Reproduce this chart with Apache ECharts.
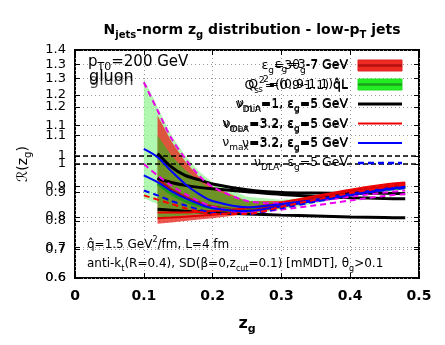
<!DOCTYPE html>
<html><head><meta charset="utf-8">
<script src="https://cdn.jsdelivr.net/npm/echarts/dist/echarts.min.js"></script>
<style>html,body{margin:0;padding:0;background:#fff}#c{width:445px;height:345px}</style>
</head><body><div id="c"></div><script>
// ---- data ----
const zg = [0.1, 0.12, 0.14, 0.16, 0.18, 0.2, 0.25, 0.3, 0.35, 0.4, 0.45, 0.48];
const xTicks = [0, 0.1, 0.2, 0.3, 0.4, 0.5];
const yTicksA = [0.6, 0.7, 0.8, 0.9, 1.0, 1.1, 1.2, 1.3, 1.4];
const yTicksB = [0.6, 0.7, 0.8, 0.9, 1.0, 1.1, 1.2, 1.3];

const lightGreenLo = [0.88, 0.86, 0.845, 0.835, 0.826, 0.82, 0.82, 0.84, 0.862, 0.885, 0.905, 0.912];
const lightGreenHi = [1.30, 1.20, 1.10, 1.03, 0.975, 0.935, 0.885, 0.875, 0.885, 0.90, 0.918, 0.925];
const redBandLo   = [null, 0.79, 0.795, 0.80, 0.805, 0.81, 0.825, 0.845, 0.87, 0.893, 0.91, 0.918];
const redBandHi   = [null, 1.17, 1.08, 1.01, 0.955, 0.92, 0.87, 0.87, 0.885, 0.905, 0.925, 0.935];
const redBandMid  = [null, 0.95, 0.91, 0.885, 0.865, 0.85, 0.84, 0.855, 0.875, 0.897, 0.915, 0.925];
const greenBandLo = [null, 0.81, 0.815, 0.82, 0.825, 0.83, 0.835, 0.85, 0.868, 0.888, 0.905, 0.912];
const greenBandHi = [null, 1.10, 1.03, 0.98, 0.94, 0.91, 0.87, 0.865, 0.878, 0.897, 0.915, 0.922];
const greenBandMid= [null, 0.93, 0.895, 0.87, 0.855, 0.845, 0.84, 0.855, 0.872, 0.892, 0.91, 0.917];

const blackTop  = [null, 1.037, 0.99, 0.96, 0.945, 0.93, 0.91, 0.90, 0.898, 0.897, 0.897, 0.896];
const blackMid  = [null, 0.95, 0.935, 0.925, 0.918, 0.913, 0.903, 0.893, 0.886, 0.882, 0.879, 0.878];
const blackLowB = [null, 0.825, 0.822, 0.819, 0.817, 0.815, 0.81, 0.806, 0.803, 0.80, 0.798, 0.797];
const redSolid1 = [null, 0.83, 0.83, 0.83, 0.832, 0.835, 0.845, 0.865, 0.888, 0.91, 0.928, 0.935];
const redSolid2 = [null, 0.81, 0.812, 0.815, 0.818, 0.822, 0.835, 0.857, 0.882, 0.905, 0.922, 0.93];
const blueSolid1 = [1.053, 1.024, 0.975, 0.93, 0.895, 0.87, 0.848, 0.86, 0.875, 0.895, 0.912, 0.92];
const blueSolid2 = [0.96, 0.936, 0.905, 0.88, 0.86, 0.845, 0.835, 0.852, 0.872, 0.893, 0.91, 0.918];
const blueDash   = [0.907, 0.89, 0.87, 0.855, 0.84, 0.828, 0.825, 0.845, 0.868, 0.89, 0.908, 0.915];
const magDash1   = [1.287, 1.188, 1.09, 1.02, 0.96, 0.92, 0.87, 0.862, 0.87, 0.885, 0.90, 0.907];
const magDash2   = [1.0, 0.96, 0.925, 0.895, 0.87, 0.85, 0.83, 0.84, 0.855, 0.872, 0.888, 0.895];
const redDash    = [0.89, 0.875, 0.86, 0.845, 0.833, 0.825, 0.825, 0.85, 0.875, 0.898, 0.918, 0.928];

const legendA = ["ε_{g}=3-7 GeV", "Q_{s}^{2}=(0.9-1.1)q̂L", "ν_{min}=1, ε_{g}=5 GeV", "ν_{max}=3.2, ε_{g}=5 GeV", "ν_{max}=3.2, ε_{g}=5 GeV", "ν_{DLA}, ε_{g}=5 GeV"];
const legendB = ["ε_{g}=3θ_{g}-7 GeV", "Q_{s}^{2}=(0.9-1.1) q̂L", "ν_{DLA}=1, ε_{g}=5 GeV", "ν_{DLA}=3.2, ε_{g}=5 GeV", "ν=3.2, ε_{g}=5 GeV", ""];

const F = "DejaVu Sans";

function pairs(ys) { const out = []; zg.forEach((x, i) => { if (ys[i] != null) out.push([x, ys[i]]); }); return out; }
function rt(str, p) {
  let out = '', buf = '', i = 0;
  const flush = () => { if (buf) { out += '{' + p + '|' + buf + '}'; buf = ''; } };
  while (i < str.length) {
    const c = str[i];
    if ((c === '_' || c === '^') && str[i + 1] === '{') {
      flush(); const j = str.indexOf('}', i);
      out += '{' + p + (c === '_' ? 'S' : 'P') + '|' + str.slice(i + 2, j) + '}';
      i = j + 1;
    } else { buf += c; i++; }
  }
  flush(); return out;
}
function rs(p, size, weight, color) {
  const s = Math.round(size * 0.7);
  const o = {};
  o[p] = { fontFamily: F, fontSize: size, fontWeight: weight, lineHeight: size + 6, color: color };
  o[p + 'S'] = { fontFamily: F, fontSize: s, fontWeight: weight, lineHeight: s + 1, verticalAlign: 'bottom', color: color };
  o[p + 'P'] = { fontFamily: F, fontSize: s, fontWeight: weight, lineHeight: s + 1, verticalAlign: 'top', color: color };
  return o;
}

function band(lo, hi, color, z) {
  const data = [];
  zg.forEach((x, i) => { if (lo[i] != null) data.push([x, lo[i], hi[i]]); });
  return {
    type: 'custom', yAxisIndex: 0, z: z, clip: true, silent: true,
    data: data, encode: { x: 0, y: [1, 2] },
    renderItem: function (params, api) {
      if (params.dataIndex !== 0) return;
      const pts = [];
      for (let k = 0; k < data.length; k++) pts.push(api.coord([data[k][0], data[k][2]]));
      for (let k = data.length - 1; k >= 0; k--) pts.push(api.coord([data[k][0], data[k][1]]));
      return { type: 'polygon', shape: { points: pts }, style: { fill: color } };
    }
  };
}
function line(ys, color, width, type, yIdx, z) {
  return {
    type: 'line', data: pairs(ys), yAxisIndex: yIdx || 0, symbol: 'none', smooth: 0.3, z: z || 5,
    lineStyle: { color: color, width: width, type: type || 'solid' }, silent: true, animation: false
  };
}
const oneLine = { silent: true, symbol: 'none', animation: false, label: { show: false },
  lineStyle: { color: '#000', type: [5, 3], width: 1.5 }, data: [{ yAxis: 1 }] };

const series = [
  band(lightGreenLo, lightGreenHi, 'rgba(150,245,150,0.75)', 1),
  band(redBandLo, redBandHi, 'rgba(232,40,30,0.78)', 2),
  band(greenBandLo, greenBandHi, 'rgba(20,200,20,0.55)', 3),
  line(redBandMid, '#b01010', 2.5, 'solid', 0, 4),
  line(greenBandMid, '#1a9a1a', 2.5, 'solid', 0, 4),
  Object.assign(line(blackTop, '#000', 3), { markLine: oneLine }),
  line(blackMid, '#000', 3),
  Object.assign(line(blackLowB, '#000', 3, 'solid', 1), { markLine: oneLine }),
  line(redSolid1, '#ee0000', 2),
  line(redSolid2, '#dd0000', 2),
  line(magDash1, '#ee00ee', 2, [6, 4]),
  line(magDash2, '#ee00ee', 2, [6, 4]),
  line(blueSolid1, '#0000ff', 2),
  line(blueSolid2, '#0000ff', 2),
  line(blueDash, '#0000ff', 2, [6, 4]),
  line(redDash, '#ff0000', 2, [6, 4])
];

const grid = { left: 75, top: 50, width: 344, height: 228, show: true, borderColor: '#000', borderWidth: 2, backgroundColor: 'transparent' };
const dotted = { show: true, lineStyle: { color: '#999', type: [1, 3], width: 1 } };
const tick = { show: true, inside: true, length: 5, lineStyle: { color: '#000', width: 1 } };

const yA = {
  type: 'value', min: yTicksA[0], max: yTicksA[yTicksA.length - 1], interval: 0.1, position: 'left',
  axisLine: { show: false }, axisTick: tick, splitLine: dotted,
  axisLabel: { color: '#000', fontFamily: F, fontSize: 13, margin: 9 },
  name: '{n|ℛ(z}{nS|g}{n|)}', nameLocation: 'middle', nameGap: 42, nameRotate: 90,
  nameTextStyle: { rich: rs('n', 14, 'normal', '#000') }
};
const yB = {
  type: 'value', min: yTicksB[0], max: 1.347, interval: 0.1, position: 'left',
  axisLine: { show: false }, axisTick: tick, splitLine: dotted,
  axisLabel: { color: '#000', fontFamily: F, fontSize: 13, margin: 9, showMaxLabel: false }
};

const graphic = [];
// legend
const rowY = [65, 84.5, 104, 123.5, 143, 163];
legendA.forEach((t, i) => {
  graphic.push({ type: 'text', x: 348, y: rowY[i], z: 20, style: { text: rt(t, 'n'), rich: rs('n', 12.5, 'normal', i === 5 ? '#555' : '#111'), align: 'right', verticalAlign: 'middle' } });
  if (legendB[i]) graphic.push({ type: 'text', x: 348, y: rowY[i] + 1, z: 20, style: { text: rt(legendB[i], 'n'), rich: rs('n', 12.5, 'normal', 'rgba(0,0,0,0.45)'), align: 'right', verticalAlign: 'middle' } });
});
graphic.push({ type: 'rect', z: 20, shape: { x: 358, y: 60, width: 44, height: 11 }, style: { fill: '#ee2a22', stroke: '#e02020' } });
graphic.push({ type: 'line', z: 21, shape: { x1: 358, y1: 65.5, x2: 402, y2: 65.5 }, style: { stroke: '#b01010', lineWidth: 2.5 } });
graphic.push({ type: 'rect', z: 20, shape: { x: 358, y: 79, width: 44, height: 11 }, style: { fill: '#22ee22', stroke: '#22dd22' } });
graphic.push({ type: 'line', z: 21, shape: { x1: 358, y1: 84.5, x2: 402, y2: 84.5 }, style: { stroke: '#1aa01a', lineWidth: 2.5 } });
graphic.push({ type: 'line', z: 21, shape: { x1: 358, y1: 104, x2: 402, y2: 104 }, style: { stroke: '#000', lineWidth: 3 } });
graphic.push({ type: 'line', z: 21, shape: { x1: 358, y1: 123.5, x2: 402, y2: 123.5 }, style: { stroke: '#ee0000', lineWidth: 2 } });
graphic.push({ type: 'line', z: 21, shape: { x1: 358, y1: 143, x2: 402, y2: 143 }, style: { stroke: '#0000ff', lineWidth: 2 } });
graphic.push({ type: 'line', z: 21, shape: { x1: 358, y1: 163, x2: 402, y2: 163 }, style: { stroke: '#0000ff', lineWidth: 2.5, lineDash: [6, 4] } });
// annotations
graphic.push({ type: 'text', x: 88, y: 62, z: 20, style: { text: rt('p_{T0}=200 GeV', 'a'), rich: rs('a', 15, 'normal', '#000'), verticalAlign: 'middle' } });
graphic.push({ type: 'text', x: 89, y: 77, z: 20, style: { text: 'gluon', fontFamily: F, fontSize: 16, fill: '#000', verticalAlign: 'middle' } });
graphic.push({ type: 'text', x: 89, y: 81, z: 20, style: { text: 'gluon', fontFamily: F, fontSize: 16, fill: 'rgba(0,0,0,0.7)', verticalAlign: 'middle' } });
graphic.push({ type: 'text', x: 87, y: 245, z: 20, style: { text: rt('q̂=1.5 GeV^{2}/fm, L=4 fm', 'b'), rich: rs('b', 12, 'normal', '#000'), verticalAlign: 'middle' } });
graphic.push({ type: 'text', x: 87, y: 264, z: 20, style: { text: rt('anti-k_{t}(R=0.4), SD(β=0,z_{cut}=0.1) [mMDT], θ_{g}>0.1', 'b'), rich: rs('b', 12, 'normal', '#000'), verticalAlign: 'middle' } });

const option = {
  animation: false,
  backgroundColor: '#fff',
  title: {
    text: rt('N_{jets}-norm z_{g} distribution - low-p_{T} jets', 't'),
    left: 247, top: 15, textAlign: 'center',
    textStyle: { rich: rs('t', 14, 'bold', '#000') }
  },
  grid: grid,
  xAxis: [
    { type: 'value', min: xTicks[0], max: xTicks[xTicks.length - 1], interval: 0.1, position: 'bottom',
      axisLine: { show: false }, axisTick: tick, splitLine: dotted,
      axisLabel: { color: '#000', fontFamily: F, fontSize: 14, fontWeight: 'bold', margin: 11 },
      name: '{n|z}{nS|g}', nameLocation: 'middle', nameGap: 35,
      nameTextStyle: { rich: rs('n', 16, 'bold', '#000') } },
    { type: 'value', min: xTicks[0], max: xTicks[xTicks.length - 1], interval: 0.1, position: 'top',
      axisLine: { show: false }, axisTick: tick, splitLine: { show: false }, axisLabel: { show: false } }
  ],
  yAxis: [
    yA, yB,
    { type: 'value', min: 0.6, max: 1.4, interval: 0.1, position: 'right', axisLine: { show: false }, axisTick: tick, splitLine: { show: false }, axisLabel: { show: false } },
    { type: 'value', min: 0.6, max: 1.347, interval: 0.1, position: 'right', axisLine: { show: false }, axisTick: tick, splitLine: { show: false }, axisLabel: { show: false } }
  ],
  series: series,
  graphic: graphic
};
const chart = echarts.init(document.getElementById('c'), null, { renderer: 'canvas' });
chart.setOption(option);
</script></body></html>
